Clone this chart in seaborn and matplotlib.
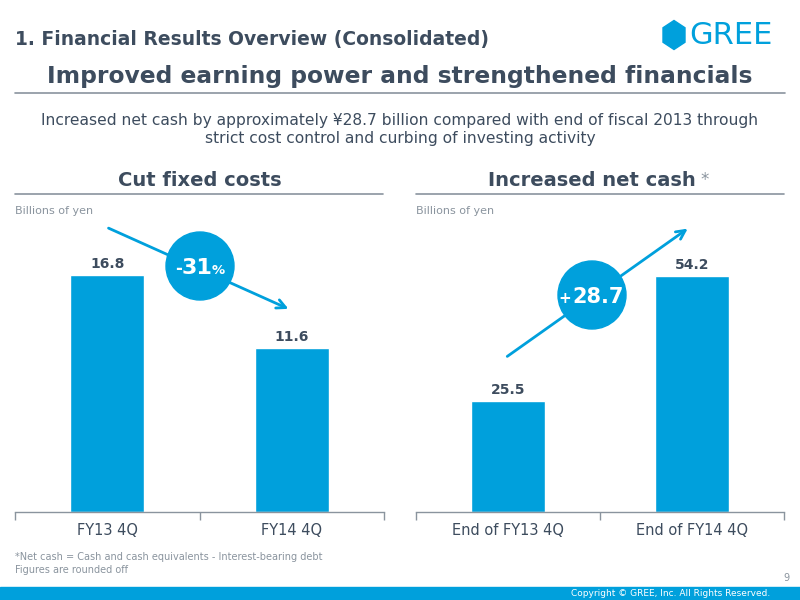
import numpy as np
import pandas as pd
import seaborn as sns
import matplotlib.pyplot as plt
from matplotlib.patches import Ellipse, Rectangle, Polygon, FancyArrowPatch

# Dados
custos_cat = ['FY13 4Q', 'FY14 4Q']
custos_val = [16.8, 11.6]
caixa_cat = ['End of FY13 4Q', 'End of FY14 4Q']
caixa_val = [25.5, 54.2]

AZUL = '#00a0dc'
ESCURO = '#3d4c5e'
CINZA = '#8a949e'

sns.set_theme(style='white')
plt.rcParams['font.family'] = ['DejaVu Sans']

fig = plt.figure(figsize=(8, 6), dpi=100)
W, H = 800, 600


# converte pixel (topo-esquerda) para fração da figura
def fx(x):
    return x / W


def fy(y):
    return 1 - y / H


def painel(rect, cats, vals, ymax):
    ax = fig.add_axes(rect)
    ax.set_facecolor('none')
    df = pd.DataFrame({'cat': cats, 'val': vals})
    sns.barplot(data=df, x='cat', y='val', color=AZUL, width=0.4,
                saturation=1, ax=ax)
    ax.set_xlim(-0.5, 1.5)
    ax.set_ylim(0, ymax)
    for s in ['top', 'right', 'left']:
        ax.spines[s].set_visible(False)
    ax.spines['bottom'].set_color(CINZA)
    ax.spines['bottom'].set_linewidth(1)
    ax.set_yticks([])
    ax.set_xlabel('')
    ax.set_ylabel('')
    ax.tick_params(axis='x', which='major', length=0, pad=8,
                   labelsize=10.5, labelcolor=ESCURO)
    ax.set_xticks([-0.5, 0.5, 1.5], minor=True)
    ax.tick_params(axis='x', which='minor', bottom=True, direction='out',
                   length=6, color=CINZA, width=1)
    for c in ax.containers:
        ax.bar_label(c, fmt='%.1f', padding=3, fontsize=10,
                     fontweight='bold', color=ESCURO)
    return ax


ax1 = painel([fx(15), fy(512), fx(369), 292 / H], custos_cat, custos_val, 20.7)
ax2 = painel([fx(416), fy(512), fx(368), 292 / H], caixa_cat, caixa_val, 67.1)

# Cabeçalho
fig.text(fx(15), fy(40), '1. Financial Results Overview (Consolidated)',
         fontsize=13.5, fontweight='bold', color=ESCURO, va='center')
fig.text(fx(400), fy(77), 'Improved earning power and strengthened financials',
         fontsize=16.8, fontweight='bold', color=ESCURO, ha='center', va='center')
fig.add_artist(plt.Line2D([fx(15), fx(785)], [fy(93), fy(93)],
                          color=CINZA, lw=1.2))
fig.text(fx(400), fy(120), 'Increased net cash by approximately ¥28.7 billion '
         'compared with end of fiscal 2013 through',
         fontsize=11.2, color=ESCURO, ha='center', va='center')
fig.text(fx(400), fy(139), 'strict cost control and curbing of investing activity',
         fontsize=11.2, color=ESCURO, ha='center', va='center')

# Logo GREE
hx, hy, hw, hh = 674, 35, 11, 14.5
hexa = [(hx, hy - hh), (hx + hw, hy - hh / 2), (hx + hw, hy + hh / 2),
        (hx, hy + hh), (hx - hw, hy + hh / 2), (hx - hw, hy - hh / 2)]
fig.add_artist(Polygon([(fx(a), fy(b)) for a, b in hexa], closed=True,
                       color=AZUL, transform=fig.transFigure))
fig.text(fx(689), fy(36), 'GREE', fontsize=22, color=AZUL, va='center')

# Títulos dos painéis
fig.text(fx(200), fy(180), 'Cut fixed costs', fontsize=14,
         fontweight='bold', color=ESCURO, ha='center', va='center')
fig.text(fx(592), fy(180), 'Increased net cash', fontsize=14,
         fontweight='bold', color=ESCURO, ha='center', va='center')
fig.text(fx(700), fy(180), '*', fontsize=12, color=CINZA, va='center')
for x0, x1 in [(15, 383), (416, 784)]:
    fig.add_artist(plt.Line2D([fx(x0), fx(x1)], [fy(194), fy(194)],
                              color=CINZA, lw=1.2))
for x0 in [15, 416]:
    fig.text(fx(x0), fy(211), 'Billions of yen', fontsize=8, color=CINZA,
             va='center')

# Setas
for (x0, y0), (x1, y1) in [((106, 227), (291, 310)), ((505, 358), (690, 227))]:
    seta = FancyArrowPatch((fx(x0), fy(y0)), (fx(x1), fy(y1)),
                           transform=fig.transFigure, arrowstyle='->',
                           mutation_scale=16, color=AZUL, lw=2, zorder=4)
    fig.add_artist(seta)

# Círculos
for cx, cy in [(200, 266), (592, 295)]:
    fig.add_artist(Ellipse((fx(cx), fy(cy)), 68 / W, 68 / H, color=AZUL,
                           transform=fig.transFigure, zorder=5))

fig.text(fx(182), fy(274), '-', fontsize=12, fontweight='bold', color='white',
         ha='right', va='baseline', zorder=6)
fig.text(fx(197), fy(274), '31', fontsize=16, fontweight='bold', color='white',
         ha='center', va='baseline', zorder=6)
fig.text(fx(212), fy(274), '%', fontsize=9.5, fontweight='bold', color='white',
         ha='left', va='baseline', zorder=6)
fig.text(fx(571), fy(303), '+', fontsize=11, fontweight='bold', color='white',
         ha='right', va='baseline', zorder=6)
fig.text(fx(572), fy(303), '28.7', fontsize=15, fontweight='bold', color='white',
         ha='left', va='baseline', zorder=6)

# Rodapé
fig.text(fx(15), fy(557), '*Net cash = Cash and cash equivalents - Interest-bearing debt',
         fontsize=7, color=CINZA, va='center')
fig.text(fx(15), fy(570), 'Figures are rounded off', fontsize=7, color=CINZA,
         va='center')
fig.text(fx(790), fy(578), '9', fontsize=7, color=CINZA, ha='right', va='center')
fig.add_artist(Rectangle((0, 0), 1, 13 / H, color=AZUL,
                         transform=fig.transFigure))
fig.text(fx(770), fy(593), 'Copyright © GREE, Inc. All Rights Reserved.',
         fontsize=6.5, color='white', ha='right', va='center')

fig.savefig('out.png', dpi=100)
